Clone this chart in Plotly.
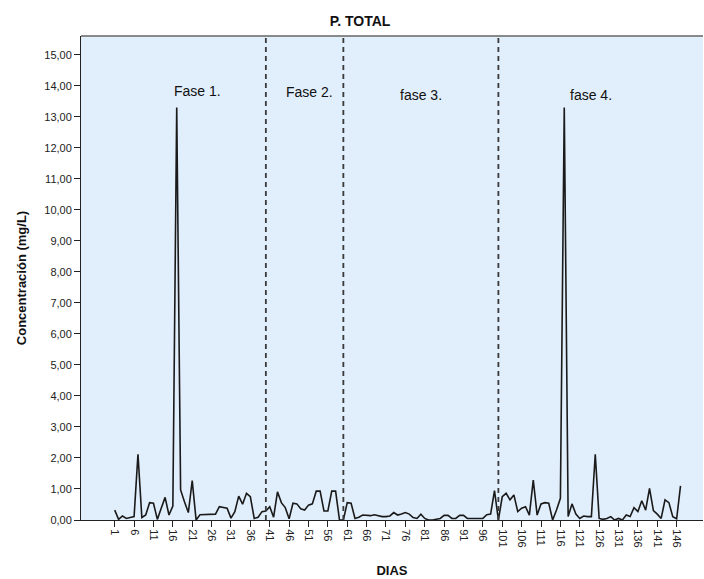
import plotly.graph_objects as go

# Daily total phosphorus concentration (mg/L), days 1..147
dias = list(range(1, 148))
p_total = [
    0.32, 0.02, 0.13, 0.05, 0.08, 0.11, 2.12, 0.08, 0.16, 0.56,
    0.54, 0.02, 0.38, 0.73, 0.16, 0.45, 13.30, 0.97, 0.59, 0.24,
    1.27, 0.00, 0.17, 0.17, 0.17, 0.17, 0.19, 0.43, 0.41, 0.38,
    0.06, 0.27, 0.77, 0.51, 0.86, 0.75, 0.05, 0.09, 0.27, 0.29,
    0.43, 0.09, 0.91, 0.56, 0.40, 0.04, 0.54, 0.52, 0.36, 0.32,
    0.48, 0.52, 0.93, 0.93, 0.29, 0.29, 0.93, 0.93, 0.00, 0.00,
    0.56, 0.54, 0.05, 0.09, 0.16, 0.14, 0.14, 0.17, 0.13, 0.11,
    0.11, 0.13, 0.24, 0.16, 0.19, 0.24, 0.19, 0.08, 0.05, 0.19,
    0.05, 0.00, 0.00, 0.02, 0.05, 0.15, 0.15, 0.05, 0.05, 0.15,
    0.15, 0.05, 0.05, 0.05, 0.05, 0.05, 0.17, 0.19, 0.95, 0.00,
    0.75, 0.86, 0.65, 0.81, 0.27, 0.38, 0.43, 0.16, 1.29, 0.16,
    0.52, 0.56, 0.54, 0.00, 0.32, 0.70, 13.30, 0.11, 0.52, 0.19,
    0.05, 0.13, 0.11, 0.11, 2.12, 0.05, 0.02, 0.05, 0.11, 0.00,
    0.05, 0.00, 0.16, 0.11, 0.40, 0.27, 0.62, 0.32, 1.02, 0.30,
    0.19, 0.05, 0.65, 0.56, 0.11, 0.04, 1.10,
]

# Phase boundaries (day) and phase labels
limites_fase = [40, 60, 100]
fase_x = [22.3, 51.3, 80.0, 123.8]
fase_y = [13.85, 13.80, 13.70, 13.70]
fase_txt = ["Fase 1.", "Fase 2.", "fase 3.", "fase 4."]

x_ticks = list(range(1, 148, 5))
y_ticks = list(range(0, 16))

FONT = "Liberation Sans, Arial, sans-serif"

fig = go.Figure()
fig.add_trace(go.Scatter(
    x=dias, y=p_total, mode="lines",
    line=dict(color="#1a1a1a", width=1.6),
    showlegend=False,
))

for d in limites_fase:
    fig.add_shape(type="line", xref="x", yref="paper", x0=d, x1=d, y0=0, y1=1,
                  line=dict(color="#3a3a3a", width=1.8, dash="5px,4px"))

# top frame line of the plot area
fig.add_shape(type="line", xref="paper", yref="paper", x0=0, x1=1, y0=1, y1=1,
              line=dict(color="#666666", width=1.5))

for x, y, t in zip(fase_x, fase_y, fase_txt):
    fig.add_annotation(x=x, y=y, text=t, showarrow=False,
                       font=dict(family=FONT, size=14, color="#111111"))

fig.update_layout(
    width=704, height=579,
    margin=dict(l=81, r=1, t=36, b=59),
    paper_bgcolor="white",
    plot_bgcolor="#E1EEFB",
    separators=",.",
    title=dict(text="<b>P. TOTAL</b>", x=360 / 704, xanchor="center",
               y=1 - 21 / 579, yanchor="middle",
               font=dict(family=FONT, size=14, color="#111111")),
    font=dict(family=FONT, color="#222222"),
)

fig.update_xaxes(
    range=[-7.7, 152.8],
    tickmode="array", tickvals=x_ticks, ticktext=[str(v) for v in x_ticks],
    tickangle=90, ticks="outside", ticklen=6, tickcolor="#222222", tickwidth=1,
    tickfont=dict(family=FONT, size=11, color="#222222"),
    showgrid=False, zeroline=False,
    showline=True, linecolor="#222222", linewidth=1,
    title=dict(text="<b>DIAS</b>", standoff=19,
               font=dict(family=FONT, size=13, color="#111111")),
)

fig.update_yaxes(
    range=[0, 15.61],
    tickmode="array", tickvals=y_ticks, tickformat=".2f",
    ticks="outside", ticklen=6, tickcolor="#222222", tickwidth=1,
    tickfont=dict(family=FONT, size=11, color="#222222"),
    showgrid=False, zeroline=False,
    showline=True, linecolor="#222222", linewidth=1,
    title=dict(text="<b>Concentración (mg/L)</b>", standoff=14,
               font=dict(family=FONT, size=13, color="#111111")),
)

fig.write_html("out.html")
